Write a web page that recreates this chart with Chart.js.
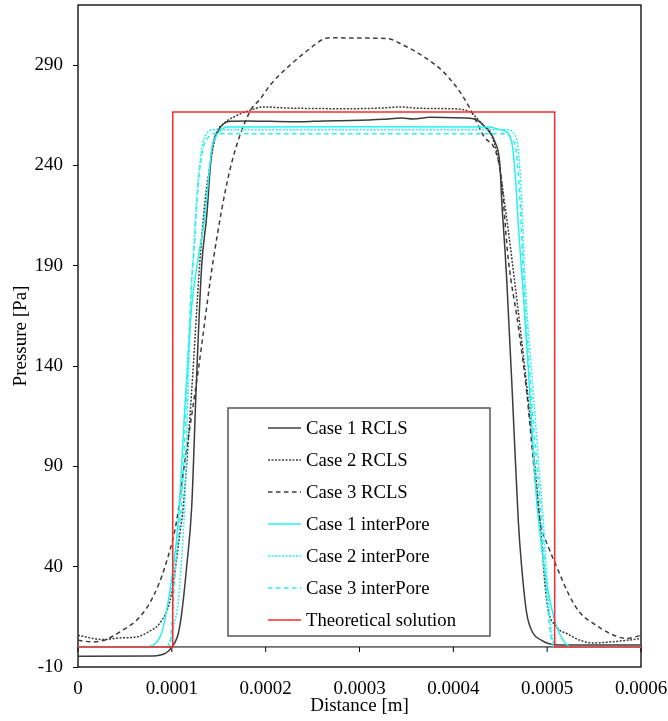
<!DOCTYPE html>
<html>
<head>
<meta charset="utf-8">
<title>Pressure profile</title>
<script src="https://cdn.jsdelivr.net/npm/chart.js@4.4.1/dist/chart.umd.min.js"></script>
<style>
  html, body { margin: 0; padding: 0; background: #fff; }
  canvas { display: block; }
</style>
</head>
<body>
<canvas id="pressureChart" width="668" height="721"></canvas>
<script>
// --- distance [m] / pressure [Pa] for each run ---

const case1RclsX = [0, 80e-6, 88e-6, 93e-6, 97e-6, 100e-6, 103e-6, 106.9e-6, 110.5e-6, 115.8e-6, 121.2e-6, 126e-6, 131.8e-6, 137.2e-6, 142.5e-6, 149.2e-6, 162e-6, 183e-6, 205e-6, 237e-6, 262e-6, 290e-6, 325e-6, 345e-6, 357e-6, 375e-6, 400e-6, 421.3e-6, 435.6e-6, 444.4e-6, 449.7e-6, 451.5e-6, 455e-6, 456.9e-6, 463e-6, 469.2e-6, 472.8e-6, 478.2e-6, 485.2e-6, 494.1e-6, 501.2e-6, 512e-6, 600e-6];
const case1RclsY = [-4.6, -4.5, -4.0, -3.2, -1.8, 0, 2, 6.7, 16.7, 40, 70, 130, 190, 215, 247, 257, 262, 262.2, 262, 261.8, 262.2, 262.4, 263, 263.7, 263.2, 264, 263.8, 263.3, 258.3, 251.7, 240, 223, 198, 183, 125, 63, 40, 16.7, 6.7, 3.3, 1.7, 1, 1];

const case2RclsX = [0, 27e-6, 45e-6, 62.6e-6, 76.7e-6, 87.4e-6, 98e-6, 103.4e-6, 108.7e-6, 112.2e-6, 121.2e-6, 130e-6, 135.3e-6, 140.7e-6, 147.8e-6, 153.1e-6, 167.3e-6, 183.3e-6, 197.5e-6, 218.8e-6, 236.6e-6, 289.9e-6, 325.4e-6, 343.2e-6, 364.5e-6, 396.4e-6, 417.8e-6, 431.9e-6, 439.1e-6, 447.9e-6, 455e-6, 462.5e-6, 478.7e-6, 492.3e-6, 499.5e-6, 510.1e-6, 520.8e-6, 524.3e-6, 535e-6, 549.2e-6, 566.9e-6, 584.7e-6, 600e-6];
const case2RclsY = [5.8, 3.7, 4.5, 5, 8, 12, 23, 38, 57, 70, 128, 193, 222, 240, 256.7, 260, 264.5, 267.5, 269.2, 268.7, 268.5, 268.3, 268.7, 269.2, 268.5, 268.3, 266.7, 260, 256.7, 243, 220, 193, 128, 63, 23, 10, 6.7, 5.8, 3.3, 2, 2.5, 3.3, 4.2];

const case3RclsX = [0, 16e-6, 28.8e-6, 44.8e-6, 66e-6, 80e-6, 92.7e-6, 105.2e-6, 112.2e-6, 119.4e-6, 128.2e-6, 144.2e-6, 162e-6, 183.3e-6, 194e-6, 204.6e-6, 225.9e-6, 247.2e-6, 261.4e-6, 268.6e-6, 300e-6, 329e-6, 346.7e-6, 371.6e-6, 389.3e-6, 407.1e-6, 417.8e-6, 431.9e-6, 449.7e-6, 458.6e-6, 469.2e-6, 478.2e-6, 485.2e-6, 492.3e-6, 501.2e-6, 510.1e-6, 524.3e-6, 535e-6, 549.2e-6, 566.9e-6, 584.7e-6, 600e-6];
const case3RclsY = [3.3, 2.5, 3.5, 7.5, 15, 25, 40, 63, 87, 110, 138, 193, 238, 267, 273, 280, 290, 298.3, 303, 303.7, 303.5, 303.3, 300, 293.3, 286.7, 276.7, 268.3, 255, 238.3, 193, 160, 127, 93, 63, 50, 40, 25, 17, 11.7, 6.7, 4.2, 5.8];

const case1InterX = [0, 70e-6, 78.5e-6, 87.4e-6, 90.9e-6, 96.2e-6, 101.6e-6, 106.9e-6, 114e-6, 121.2e-6, 127.5e-6, 135.3e-6, 142.5e-6, 147.8e-6, 153e-6, 158.5e-6, 300e-6, 439.1e-6, 446e-6, 453.2e-6, 462.2e-6, 466e-6, 470e-6, 474e-6, 481e-6, 488.8e-6, 494e-6, 499.5e-6, 510.1e-6, 517.2e-6, 522.5e-6, 526e-6, 600e-6];
const case1InterY = [0, 0, 0.5, 5, 10, 23, 40, 63, 120, 170, 192, 215, 248, 255, 258, 259.2, 259.3, 259.2, 258.3, 257.5, 251.7, 235, 205, 180, 130, 73, 50, 31.7, 10, 3.3, 0.5, 0, 0];

const case2InterX = [0, 90e-6, 95e-6, 98e-6, 101.6e-6, 106.9e-6, 112.2e-6, 114e-6, 117.2e-6, 121.2e-6, 122.6e-6, 126.8e-6, 131.8e-6, 137.2e-6, 145e-6, 300e-6, 456.9e-6, 465.7e-6, 469.2e-6, 472.8e-6, 476.4e-6, 485e-6, 494.1e-6, 495.8e-6, 501.2e-6, 504.8e-6, 508.3e-6, 512e-6, 600e-6];
const case2InterY = [0, 0, 0.5, 3, 10, 23, 57, 73, 125, 183, 193, 225, 248, 256, 257.8, 257.8, 257.8, 255, 248, 223, 183, 128, 73, 63, 23, 6.7, 0.5, 0, 0];

const case3InterX = [0, 94e-6, 98e-6, 101.6e-6, 105.2e-6, 110.5e-6, 116e-6, 121.2e-6, 123e-6, 128e-6, 133e-6, 138e-6, 145e-6, 300e-6, 455e-6, 462.5e-6, 467e-6, 471e-6, 475e-6, 483e-6, 492.3e-6, 496e-6, 500e-6, 504e-6, 507e-6, 600e-6];
const case3InterY = [0, 0, 1, 23, 48, 73, 130, 183, 193, 230, 248, 253.5, 255.8, 255.8, 255.8, 253, 247, 223, 183, 125, 73, 50, 23, 5, 0, 0];

const theoryX = [0, 101e-6, 101e-6, 508e-6, 508e-6, 600e-6];
const theoryY = [0, 0, 266.7, 266.7, 0, 0];

const seriesNames = [
  "Case 1 RCLS", "Case 2 RCLS", "Case 3 RCLS",
  "Case 1 interPore", "Case 2 interPore", "Case 3 interPore",
  "Theoretical solution"
];

const xTickValues = [0, 0.0001, 0.0002, 0.0003, 0.0004, 0.0005, 0.0006];
const xTickLabels = ["0", "0.0001", "0.0002", "0.0003", "0.0004", "0.0005", "0.0006"];
const yTickValues = [-10, 40, 90, 140, 190, 240, 290];

const serif = '"Liberation Serif", "Times New Roman", serif';
const GREY = "#3c3c3c";
const CYAN = "#2af0f0";
const RED = "#ff2a2a";

function toPoints(xs, ys) {
  return xs.map((x, i) => ({ x: x, y: ys[i] }));
}

// horizontal axis through y = 0 with downward tick marks, plus the plot frame
const zeroAxis = {
  id: "zeroAxis",
  beforeDatasetsDraw(chart) {
    const { ctx, chartArea, scales } = chart;
    const y0 = scales.y.getPixelForValue(0);
    ctx.save();
    ctx.strokeStyle = "#000";
    ctx.lineWidth = 1;
    ctx.beginPath();
    ctx.moveTo(chartArea.left, y0);
    ctx.lineTo(chartArea.right, y0);
    xTickValues.forEach((v) => {
      const x = scales.x.getPixelForValue(v);
      ctx.moveTo(x, y0);
      ctx.lineTo(x, y0 + 5);
    });
    ctx.stroke();
    ctx.lineWidth = 1.3;
    ctx.strokeRect(chartArea.left, chartArea.top,
      chartArea.right - chartArea.left, chartArea.bottom - chartArea.top);
    ctx.restore();
  },
};

// boxed legend sitting inside the plot
const boxLegend = {
  id: "boxLegend",
  afterDraw(chart) {
    const { ctx, chartArea } = chart;
    const left = chartArea.left + 150;
    const top = chartArea.top + 403;
    const w = 262, h = 228;
    ctx.save();
    ctx.fillStyle = "#fff";
    ctx.fillRect(left, top, w, h);
    ctx.strokeStyle = "#555";
    ctx.lineWidth = 1.5;
    ctx.strokeRect(left, top, w, h);
    ctx.font = "18.7px " + serif;
    ctx.textBaseline = "middle";
    chart.data.datasets.forEach((ds, i) => {
      const y = top + 20 + i * 32;
      ctx.strokeStyle = ds.borderColor;
      ctx.lineWidth = 1.3;
      ctx.setLineDash(ds.borderDash || []);
      ctx.beginPath();
      ctx.moveTo(left + 40, y);
      ctx.lineTo(left + 73, y);
      ctx.stroke();
      ctx.setLineDash([]);
      ctx.fillStyle = "#000";
      ctx.fillText(ds.label, left + 78, y + 1);
    });
    ctx.restore();
  },
};

function series(i, xs, ys, color, dash, order) {
  return {
    label: seriesNames[i],
    data: toPoints(xs, ys),
    borderColor: color,
    borderWidth: 1.5,
    borderDash: dash,
    pointRadius: 0,
    fill: false,
    cubicInterpolationMode: "monotone",
    order: order,
  };
}

const datasets = [
  series(0, case1RclsX, case1RclsY, GREY, [], 7),
  series(1, case2RclsX, case2RclsY, GREY, [2, 1.5], 6),
  series(2, case3RclsX, case3RclsY, GREY, [4.5, 3.5], 5),
  series(3, case1InterX, case1InterY, CYAN, [], 4),
  series(4, case2InterX, case2InterY, CYAN, [2, 1.5], 3),
  series(5, case3InterX, case3InterY, CYAN, [4.5, 3.5], 2),
  {
    label: seriesNames[6],
    data: toPoints(theoryX, theoryY),
    borderColor: RED,
    borderWidth: 1.5,
    pointRadius: 0,
    tension: 0,
    fill: false,
    order: 1,
  },
];

new Chart(document.getElementById("pressureChart"), {
  type: "line",
  data: { datasets: datasets },
  options: {
    responsive: false,
    animation: false,
    layout: { padding: { top: 5, right: 27, left: 0, bottom: 0 } },
    plugins: { legend: { display: false }, tooltip: { enabled: false } },
    scales: {
      x: {
        type: "linear",
        min: 0,
        max: 0.0006,
        afterFit: (s) => {
          s.height = 54;
          s.paddingLeft = 0;
          s.paddingRight = 0;
        },
        afterBuildTicks: (s) => { s.ticks = xTickValues.map((v) => ({ value: v })); },
        grid: { display: false },
        border: { display: false },
        ticks: {
          autoSkip: false,
          maxRotation: 0,
          padding: 3,
          color: "#000",
          font: { family: serif, size: 19 },
          callback: (v, i) => xTickLabels[i],
        },
        title: {
          display: true,
          text: "Distance [m]",
          color: "#000",
          font: { family: serif, size: 19 },
          padding: { top: 0, bottom: 4 },
        },
      },
      y: {
        type: "linear",
        min: -10,
        max: 320,
        afterFit: (s) => {
          s.width = 78;
          s.paddingTop = 0;
          s.paddingBottom = 0;
        },
        afterBuildTicks: (s) => { s.ticks = yTickValues.map((v) => ({ value: v })); },
        grid: {
          display: true,
          drawOnChartArea: false,
          drawTicks: true,
          tickLength: 5,
          color: "#000",
        },
        border: { display: false },
        ticks: {
          padding: 10,
          color: "#000",
          font: { family: serif, size: 19 },
        },
        title: {
          display: true,
          text: "Pressure [Pa]",
          color: "#000",
          font: { family: serif, size: 19 },
          padding: { top: 10, bottom: 0 },
        },
      },
    },
  },
  plugins: [zeroAxis, boxLegend],
});
</script>
</body>
</html>
